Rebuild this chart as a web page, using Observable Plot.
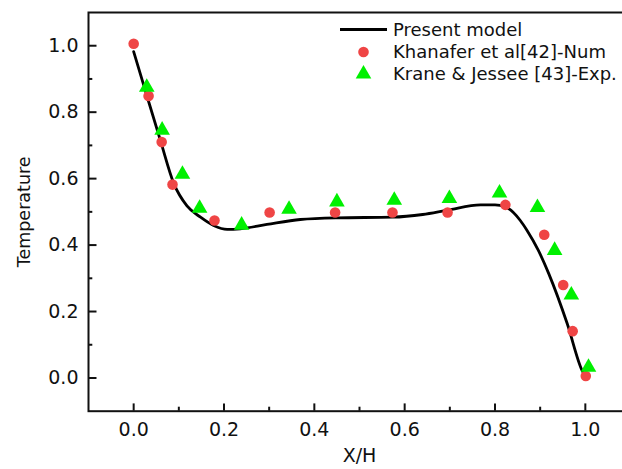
<!DOCTYPE html>
<html>
<head>
<meta charset="utf-8">
<script src="https://cdn.jsdelivr.net/npm/d3@7"></script>
<script src="https://cdn.jsdelivr.net/npm/@observablehq/plot@0.6"></script>
<style>
  html, body { margin: 0; padding: 0; background: #fff; }
  #wrap { position: relative; width: 622px; height: 469px; overflow: hidden; }
  #legend { position: absolute; left: 0; top: 0; }
</style>
</head>
<body>
<div id="wrap"></div>
<script>
// ---- data ----
const modelX = [0, 0.030, 0.059, 0.089, 0.118, 0.148, 0.177, 0.207, 0.236, 0.295, 0.369, 0.45, 0.573, 0.64, 0.695, 0.768, 0.80, 0.823, 0.856, 0.871, 0.896, 0.919, 0.960, 0.993, 1.0];
const modelY = [0.982, 0.846, 0.716, 0.585, 0.518, 0.484, 0.459, 0.447, 0.449, 0.462, 0.477, 0.482, 0.484, 0.492, 0.505, 0.521, 0.521, 0.515, 0.474, 0.444, 0.384, 0.314, 0.163, 0.022, 0.005];

const numX = [0, 0.033, 0.062, 0.086, 0.179, 0.301, 0.446, 0.573, 0.695, 0.823, 0.909, 0.951, 0.972, 1.001];
const numY = [1.006, 0.849, 0.710, 0.582, 0.474, 0.498, 0.498, 0.498, 0.498, 0.521, 0.431, 0.280, 0.141, 0.006];

const expX = [0.029, 0.063, 0.108, 0.146, 0.239, 0.344, 0.450, 0.577, 0.699, 0.810, 0.894, 0.932, 0.969, 1.007];
const expY = [0.875, 0.746, 0.613, 0.511, 0.460, 0.508, 0.530, 0.535, 0.540, 0.557, 0.513, 0.384, 0.250, 0.032];

const xTicks = [0, 0.2, 0.4, 0.6, 0.8, 1.0];
const xMinor = [0.1, 0.3, 0.5, 0.7, 0.9];
const yTicks = [0, 0.2, 0.4, 0.6, 0.8, 1.0];
const yMinor = [0.1, 0.3, 0.5, 0.7, 0.9];

const seriesNames = ["Present model", "Khanafer et al[42]-Num", "Krane & Jessee [43]-Exp."];
const xLabel = "X/H";
const yLabel = "Temperature";

const redColor = "#ef4545";
const greenColor = "#00f000";

// ---- tables ----
const model = modelX.map((x, i) => ({x, y: modelY[i]}));
const num = numX.map((x, i) => ({x, y: numY[i]}));
const exp = expX.map((x, i) => ({x, y: expY[i]}));

const fmt = d3.format(".1f");

const chart = Plot.plot({
  width: 622,
  height: 469,
  marginLeft: 88,
  marginTop: 12,
  marginBottom: 58.3,
  marginRight: -8,
  style: {fontFamily: "DejaVu Sans", fontSize: "19px", color: "#111", background: "#fff"},
  x: {domain: [-0.1, 1.1]},
  y: {domain: [-0.1, 1.1]},
  marks: [
    Plot.frame({stroke: "#111", strokeWidth: 2}),
    // inward major / minor ticks
    Plot.axisX(xTicks, {tickSize: -7.3, fill: "none", strokeWidth: 2, label: null}),
    Plot.axisX(xMinor, {tickSize: -4, fill: "none", strokeWidth: 2, label: null}),
    Plot.axisY(yTicks, {tickSize: -8.5, fill: "none", strokeWidth: 2, label: null}),
    Plot.axisY(yMinor, {tickSize: -4.3, fill: "none", strokeWidth: 2, label: null}),
    // tick labels
    Plot.axisX(xTicks, {tickSize: 0, tickPadding: 11, tickFormat: fmt, label: null, fontSize: 19}),
    Plot.axisY(yTicks, {tickSize: 0, tickPadding: 10, tickFormat: fmt, label: null, fontSize: 19}),
    // axis titles
    Plot.text([xLabel], {frameAnchor: "bottom", dy: 45, lineAnchor: "middle", fontSize: 19, fill: "#111"}),
    Plot.text([yLabel], {frameAnchor: "left", dx: -64, rotate: -90, lineAnchor: "middle", textAnchor: "middle", fontSize: 17.5, fill: "#111"}),
    // data
    Plot.line(model, {x: "x", y: "y", curve: "monotone-x", stroke: "#000", strokeWidth: 2.8}),
    Plot.dot(num, {x: "x", y: "y", r: 5.3, fill: redColor, stroke: "none"}),
    Plot.dot(exp, {x: "x", y: "y", r: 5.8, symbol: "triangle", fill: greenColor, stroke: "none"})
  ]
});

const wrap = document.getElementById("wrap");
wrap.appendChild(chart);

// ---- legend overlay ----
const ns = "http://www.w3.org/2000/svg";
const leg = document.createElementNS(ns, "svg");
leg.setAttribute("id", "legend");
leg.setAttribute("width", 622);
leg.setAttribute("height", 100);
leg.style.fontFamily = "DejaVu Sans";
leg.style.fontSize = "18px";
const rows = [29.5, 52, 74];
const symX = 363.5, textX = 393;
// line
const ln = document.createElementNS(ns, "line");
ln.setAttribute("x1", 340); ln.setAttribute("x2", 387);
ln.setAttribute("y1", rows[0]); ln.setAttribute("y2", rows[0]);
ln.setAttribute("stroke", "#000"); ln.setAttribute("stroke-width", 2.8);
leg.appendChild(ln);
// circle
const c = document.createElementNS(ns, "circle");
c.setAttribute("cx", symX); c.setAttribute("cy", rows[1]); c.setAttribute("r", 5.3);
c.setAttribute("fill", redColor);
leg.appendChild(c);
// triangle
const tri = document.createElementNS(ns, "path");
tri.setAttribute("d", d3.symbol(d3.symbolTriangle, Math.PI * 5.8 * 5.8)());
tri.setAttribute("transform", `translate(${symX},${rows[2]})`);
tri.setAttribute("fill", greenColor);
leg.appendChild(tri);
seriesNames.forEach((name, i) => {
  const t = document.createElementNS(ns, "text");
  t.setAttribute("x", textX);
  t.setAttribute("y", rows[i]);
  t.setAttribute("dy", "0.36em");
  t.setAttribute("fill", "#111");
  t.textContent = name;
  leg.appendChild(t);
});
wrap.appendChild(leg);
</script>
</body>
</html>
